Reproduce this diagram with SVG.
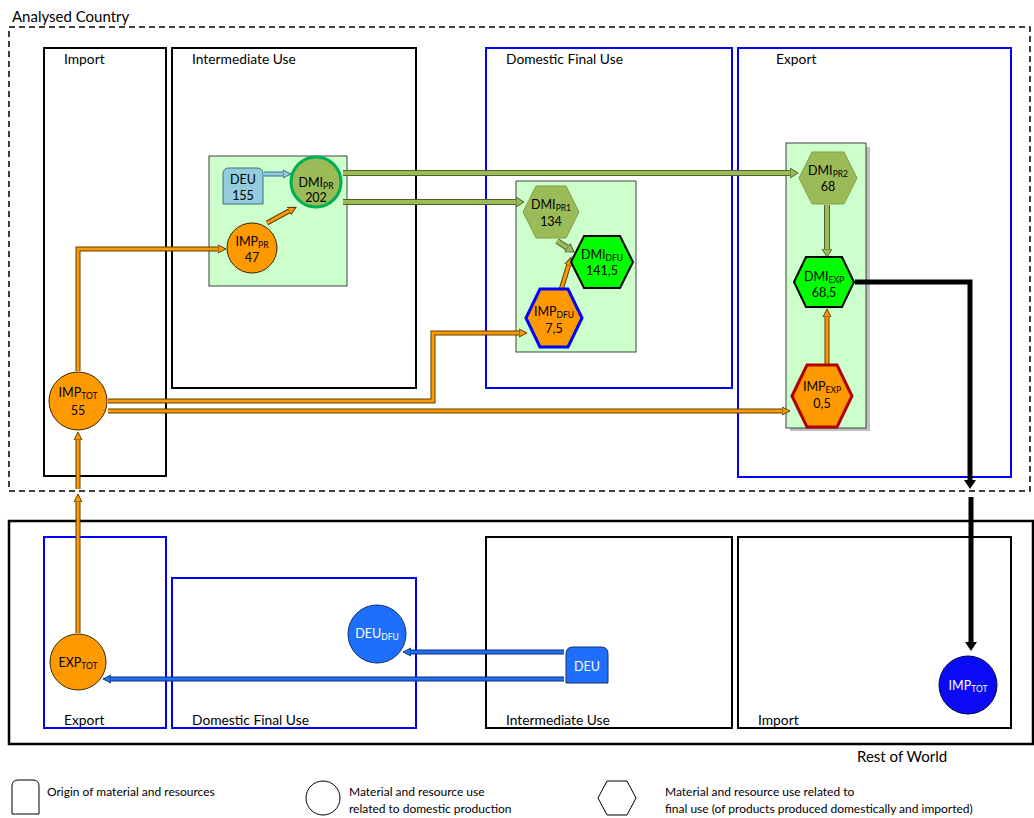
<svg xmlns="http://www.w3.org/2000/svg" width="1034" height="818" viewBox="0 0 1034 818">
<style>
text{font-family:Lato,"Liberation Sans",sans-serif;fill:#000}
.lbl{font-size:13.8px}
.nt{font-size:12.5px;text-anchor:middle}
.w{fill:#fff}
.sub{font-size:8.5px}
.lg{font-size:12px}
.box{fill:none;stroke:#000;stroke-width:2}
.bbox{fill:none;stroke:#0000FF;stroke-width:2}
.panel{fill:#CCFFCC;stroke:#404040;stroke-width:1}
.oo{fill:none;stroke:#5c3d00;stroke-width:5;marker-end:url(#mo)}
.oi{fill:none;stroke:#FF9900;stroke-width:3}
.go{fill:none;stroke:#4F6228;stroke-width:6;marker-end:url(#mg)}
.gi{fill:none;stroke:#9BBB59;stroke-width:4}
.lo{fill:none;stroke:#31708a;stroke-width:5;marker-end:url(#ml)}
.li{fill:none;stroke:#93CDDD;stroke-width:3}
.bo{fill:none;stroke:#10306a;stroke-width:5;marker-end:url(#mb)}
.bi{fill:none;stroke:#1F6FFF;stroke-width:3}
.ko{fill:none;stroke:#000;stroke-width:5;marker-end:url(#mk)}
.orn{fill:#FF9900;stroke:#3a2600;stroke-width:1}
.olv{fill:#9BBB59;stroke:#7F9F40;stroke-width:1}
.grn{fill:#00FF00;stroke:#000;stroke-width:2}
</style>
<defs>
<marker id="mo" markerUnits="userSpaceOnUse" markerWidth="10" markerHeight="10" viewBox="0 0 10 10" refX="0" refY="5" orient="auto"><path d="M0,1 L8,5 L0,9 Z" fill="#FF9900" stroke="#5c3d00" stroke-width="1"/></marker>
<marker id="mg" markerUnits="userSpaceOnUse" markerWidth="10" markerHeight="12" viewBox="0 0 10 12" refX="0" refY="6" orient="auto"><path d="M0,1 L8,6 L0,11 Z" fill="#9BBB59" stroke="#4F6228" stroke-width="1"/></marker>
<marker id="ml" markerUnits="userSpaceOnUse" markerWidth="10" markerHeight="10" viewBox="0 0 10 10" refX="0" refY="5" orient="auto"><path d="M0,1 L8,5 L0,9 Z" fill="#93CDDD" stroke="#31708a" stroke-width="1"/></marker>
<marker id="mb" markerUnits="userSpaceOnUse" markerWidth="10" markerHeight="10" viewBox="0 0 10 10" refX="0" refY="5" orient="auto"><path d="M0,1 L8,5 L0,9 Z" fill="#1F6FFF" stroke="#10306a" stroke-width="1"/></marker>
<marker id="mk" markerUnits="userSpaceOnUse" markerWidth="10" markerHeight="14" viewBox="0 0 10 14" refX="0" refY="7" orient="auto"><path d="M0,1 L9,7 L0,13 Z" fill="#000"/></marker>
</defs>
<rect width="1034" height="818" fill="#fff"/>

<g id="analysed-country">
<rect x="9" y="27" width="1021" height="464" fill="none" stroke="#000" stroke-width="1.5" stroke-dasharray="6 4"/>
<text x="12" y="22" font-size="15">Analysed Country</text>
</g>
<g id="rest-of-world">
<rect x="9" y="521" width="1024" height="223" fill="none" stroke="#000" stroke-width="2.5"/>
<text x="857" y="762" font-size="15">Rest of World</text>
</g>

<g id="sections">
<rect class="box" x="44" y="48" width="122" height="428"/><text class="lbl" x="64" y="64">Import</text>
<rect class="box" x="172" y="48" width="244" height="340"/><text class="lbl" x="192" y="64">Intermediate Use</text>
<rect class="bbox" x="486" y="48" width="246" height="340"/><text class="lbl" x="506" y="64">Domestic Final Use</text>
<rect class="bbox" x="738" y="48" width="273" height="429"/><text class="lbl" x="776" y="64">Export</text>
<rect class="bbox" x="44" y="537" width="122" height="191"/><text class="lbl" x="64" y="725">Export</text>
<rect class="bbox" x="172" y="578" width="244" height="150"/><text class="lbl" x="192" y="725">Domestic Final Use</text>
<rect class="box" x="486" y="537" width="246" height="191"/><text class="lbl" x="506" y="725">Intermediate Use</text>
<rect class="box" x="738" y="537" width="273" height="191"/><text class="lbl" x="758" y="725">Import</text>
</g>

<g id="panels">
<rect class="panel" x="209" y="156" width="138" height="130"/>
<rect class="panel" x="516" y="181" width="120" height="171"/>
<rect x="790" y="147" width="80" height="284" fill="#000" opacity="0.25"/>
<rect class="panel" x="786" y="143" width="80" height="285"/>
</g>

<g id="connectors">
<path class="lo" d="M264,174 H283"/><path class="li" d="M264,174 H283"/>
<path class="oo" d="M267,223 L289,211"/><path class="oi" d="M267,223 L289,211"/>
<path class="go" d="M343,173 H790"/><path class="gi" d="M343,173 H790"/>
<path class="go" d="M343,202 H516"/><path class="gi" d="M343,202 H516"/>
<path class="go" d="M557,241 L567.3,247.6"/><path class="gi" d="M557,241 L567.3,247.6"/>
<path class="oo" d="M561,290 L568.6,265.3"/><path class="oi" d="M561,290 L568.6,265.3"/>
<path class="go" d="M827,205 V249"/><path class="gi" d="M827,205 V249"/>
<path class="oo" d="M827,364 V317"/><path class="oi" d="M827,364 V317"/>
<path class="oo" d="M78,371 V249 H218"/><path class="oi" d="M78,371 V249 H218"/>
<path class="oo" d="M108,401 H433 V333 H519"/><path class="oi" d="M108,401 H433 V333 H519"/>
<path class="oo" d="M108,411 H782"/><path class="oi" d="M108,411 H782"/>
<path class="oo" d="M78,633 V502"/><path class="oi" d="M78,633 V502"/>
<path class="oo" d="M78,489 V440"/><path class="oi" d="M78,489 V440"/>
<path class="ko" d="M855,282 H970 V480" stroke-linejoin="miter"/>
<path class="ko" d="M971,497 V642" stroke="#222"/>
<path class="bo" d="M564,652 H411"/><path class="bi" d="M564,652 H411"/>
<path class="bo" d="M564,679 H111"/><path class="bi" d="M564,679 H111"/>
</g>

<g id="deu-155">
<path d="M223,204 V174 Q223,168 229,168 H257 Q263,168 263,174 V204 Z" fill="#93CDDD" stroke="#3f6f80" stroke-width="1"/>
<text class="nt" x="243" y="184">DEU</text><text class="nt" x="243" y="200">155</text>
</g>
<g id="dmi-pr">
<circle cx="316" cy="182" r="25" fill="#9BBB59" stroke="#00B050" stroke-width="3"/>
<text class="nt" x="316" y="187">DMI<tspan class="sub" dy="2">PR</tspan></text><text class="nt" x="316" y="202">202</text>
</g>
<g id="imp-pr">
<circle class="orn" cx="252" cy="248" r="25"/>
<text class="nt" x="252" y="246">IMP<tspan class="sub" dy="2">PR</tspan></text><text class="nt" x="252" y="262">47</text>
</g>
<g id="dmi-pr1">
<polygon class="olv" points="523,212 536,186 566,186 579,212 566,238 536,238"/>
<text class="nt" x="551" y="209">DMI<tspan class="sub" dy="2">PR1</tspan></text><text class="nt" x="551" y="226">134</text>
</g>
<g id="dmi-dfu">
<polygon class="grn" points="571,262 584,236 620,236 633,262 620,288 584,288"/>
<text class="nt" x="602" y="259">DMI<tspan class="sub" dy="2">DFU</tspan></text><text class="nt" x="602" y="275">141,5</text>
</g>
<g id="imp-dfu">
<polygon points="526,318 540,289 568,289 582,318 568,347 540,347" fill="#FF9900" stroke="#0000FF" stroke-width="3"/>
<text class="nt" x="554" y="316">IMP<tspan class="sub" dy="2">DFU</tspan></text><text class="nt" x="554" y="333">7,5</text>
</g>
<g id="dmi-pr2">
<polygon class="olv" points="799,178 812,152 844,152 857,178 844,204 812,204"/>
<text class="nt" x="828" y="175">DMI<tspan class="sub" dy="2">PR2</tspan></text><text class="nt" x="828" y="191">68</text>
</g>
<g id="dmi-exp">
<polygon class="grn" points="794,282 806,257 842,257 854,282 842,307 806,307"/>
<text class="nt" x="824" y="281">DMI<tspan class="sub" dy="2">EXP</tspan></text><text class="nt" x="824" y="297">68,5</text>
</g>
<g id="imp-exp">
<polygon points="792,396 807,365 837,365 852,396 837,427 807,427" fill="#FF9900" stroke="#B00000" stroke-width="3"/>
<text class="nt" x="822" y="391">IMP<tspan class="sub" dy="2">EXP</tspan></text><text class="nt" x="822" y="408">0,5</text>
</g>
<g id="imp-tot">
<circle class="orn" cx="78" cy="401" r="29"/>
<text class="nt" x="78" y="397">IMP<tspan class="sub" dy="2">TOT</tspan></text><text class="nt" x="78" y="415">55</text>
</g>
<g id="exp-tot">
<circle class="orn" cx="78" cy="662" r="28"/>
<text class="nt" x="78" y="667">EXP<tspan class="sub" dy="2">TOT</tspan></text>
</g>
<g id="deu-dfu">
<circle cx="377" cy="634" r="29" fill="#1F6FFF" stroke="#10306a" stroke-width="1"/>
<text class="nt w" x="377" y="638">DEU<tspan class="sub" dy="2">DFU</tspan></text>
</g>
<g id="deu-row">
<path d="M566,683 V654 Q566,647 573,647 H601 Q608,647 608,654 V683 Z" fill="#1F6FFF" stroke="#10306a" stroke-width="1"/>
<text class="nt w" x="587" y="671">DEU</text>
</g>
<g id="imp-tot-row">
<circle cx="968" cy="685" r="29" fill="#0A0AF5" stroke="#000050" stroke-width="1"/>
<text class="nt w" x="968" y="690">IMP<tspan class="sub" dy="2">TOT</tspan></text>
</g>

<g id="legend">
<path d="M12,814 V786 Q12,780 18,780 H33 Q39,780 39,786 V814 Z" fill="#fff" stroke="#000" stroke-width="1"/>
<text class="lg" x="47" y="796">Origin of material and resources</text>
<circle cx="323" cy="798" r="17" fill="#fff" stroke="#000" stroke-width="1"/>
<text class="lg" x="349" y="796">Material and resource use</text>
<text class="lg" x="349" y="813">related to domestic production</text>
<polygon points="598,798 607,781 627,781 636,798 627,815 607,815" fill="#fff" stroke="#000" stroke-width="1"/>
<text class="lg" x="665" y="796">Material and resource use related to</text>
<text class="lg" x="665" y="813">final use (of products produced domestically and imported)</text>
</g>
</svg>
